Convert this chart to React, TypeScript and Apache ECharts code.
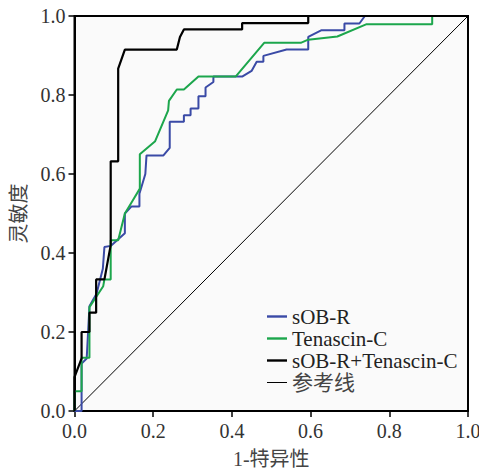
import React, { useEffect, useRef } from "react";
import * as echarts from "echarts";

const xTicks = [0, 0.2, 0.4, 0.6, 0.8, 1.0];
const seriesNames = ["sOB-R", "Tenascin-C", "sOB-R+Tenascin-C", "参考线"];

const sobrPoints: number[][] = [
  [0, 0], [0.018, 0], [0.018, 0.12], [0.031, 0.133], [0.038, 0.265], [0.056, 0.297],
  [0.072, 0.36], [0.076, 0.415], [0.092, 0.418], [0.128, 0.45], [0.128, 0.5],
  [0.145, 0.518], [0.165, 0.518], [0.165, 0.55], [0.18, 0.6], [0.183, 0.647],
  [0.226, 0.647], [0.242, 0.666], [0.242, 0.732], [0.278, 0.732], [0.278, 0.749],
  [0.295, 0.749], [0.295, 0.766], [0.315, 0.766], [0.315, 0.797], [0.333, 0.797],
  [0.333, 0.819], [0.353, 0.833], [0.353, 0.847], [0.427, 0.847], [0.45, 0.861],
  [0.463, 0.884], [0.48, 0.884], [0.48, 0.899], [0.539, 0.915], [0.594, 0.915],
  [0.594, 0.947], [0.628, 0.964], [0.686, 0.964], [0.686, 0.981], [0.724, 0.981],
  [0.738, 1], [1, 1],
];

const tenascinPoints: number[][] = [
  [0, 0], [0, 0.05], [0.018, 0.05], [0.018, 0.135], [0.038, 0.135], [0.038, 0.263],
  [0.073, 0.316], [0.076, 0.333], [0.092, 0.333], [0.092, 0.432], [0.111, 0.432],
  [0.128, 0.5], [0.148, 0.533], [0.166, 0.563], [0.166, 0.65], [0.205, 0.683],
  [0.238, 0.761], [0.24, 0.785], [0.26, 0.814], [0.278, 0.814], [0.315, 0.847],
  [0.41, 0.847], [0.482, 0.932], [0.575, 0.932], [0.594, 0.94], [0.668, 0.948],
  [0.741, 0.979], [0.909, 0.979], [0.909, 1], [1, 1],
];

const combinedPoints: number[][] = [
  [0, 0], [0, 0.086], [0.018, 0.133], [0.018, 0.2], [0.038, 0.2], [0.038, 0.249],
  [0.055, 0.249], [0.055, 0.333], [0.076, 0.333], [0.092, 0.42], [0.092, 0.632],
  [0.111, 0.632], [0.111, 0.867], [0.128, 0.915], [0.26, 0.915], [0.268, 0.947],
  [0.278, 0.966], [0.426, 0.966], [0.426, 0.982], [0.594, 0.982], [0.594, 1], [1, 1],
];

const referencePoints: number[][] = [
  [0, 0],
  [1, 1],
];

const colors = ["#3a4aa6", "#1ca64c", "#000000", "#000000"];
const widths = [2, 2, 2.2, 1];

const serif = "'Liberation Serif', 'Times New Roman', 'Noto Sans CJK SC', serif";

export default function App() {
  const ref = useRef<HTMLDivElement>(null);
  useEffect(() => {
    document.body.style.margin = "0";
    if (!ref.current) return;
    const chart = echarts.init(ref.current, undefined, { renderer: "svg" });
    const dataSets = [sobrPoints, tenascinPoints, combinedPoints, referencePoints];
    const axisCommon = {
      type: "value" as const,
      min: xTicks[0],
      max: xTicks[xTicks.length - 1],
      interval: 0.2,
      nameLocation: "middle" as const,
      nameTextStyle: { fontFamily: serif, fontSize: 20, color: "#444" },
      axisLine: { show: true, lineStyle: { color: "#000", width: 2 } },
      axisTick: { show: true, inside: false, length: 6, lineStyle: { color: "#000", width: 1.5 } },
      axisLabel: {
        fontFamily: serif,
        fontSize: 20,
        color: "#333",
        formatter: (v: number) => v.toFixed(1),
      },
      splitLine: { show: false },
    };
    chart.setOption({
      animation: false,
      backgroundColor: "#ffffff",
      grid: {
        left: 74.5,
        right: 11,
        top: 16,
        bottom: 59,
        containLabel: false,
        outerBoundsMode: "none",
        show: true,
        backgroundColor: "#fafafa",
        borderColor: "#000",
        borderWidth: 2,
      },
      xAxis: {
        ...axisCommon,
        name: "1-特异性",
        nameGap: 38,
        axisLabel: { ...axisCommon.axisLabel, margin: 10 },
      },
      yAxis: {
        ...axisCommon,
        name: "灵敏度",
        nameGap: 46,
        nameRotate: 90,
        axisLabel: { ...axisCommon.axisLabel, margin: 9 },
      },
      legend: {
        orient: "vertical",
        left: 267,
        top: 306,
        itemWidth: 20,
        itemHeight: 14,
        itemGap: 1,
        padding: 0,
        textStyle: { fontFamily: serif, fontSize: 21, color: "#222", lineHeight: 21 },
        itemStyle: { borderWidth: 0 },
        data: seriesNames.map((n, i) => ({
          name: n,
          icon: i === 3 ? "path://M0,0h20v1h-20z" : "path://M0,0h20v2.4h-20z",
          textStyle: i === 3 ? { color: "#444" } : undefined,
        })),
      },
      series: seriesNames.map((n, i) => ({
        name: n,
        type: "line",
        data: dataSets[i],
        showSymbol: false,
        symbol: "none",
        color: colors[i],
        lineStyle: { color: colors[i], width: widths[i] },
        z: i === 3 ? 1 : 2 + i,
        silent: true,
      })),
    });
    return () => chart.dispose();
  }, []);
  return <div ref={ref} style={{ width: 479, height: 470 }} />;
}
